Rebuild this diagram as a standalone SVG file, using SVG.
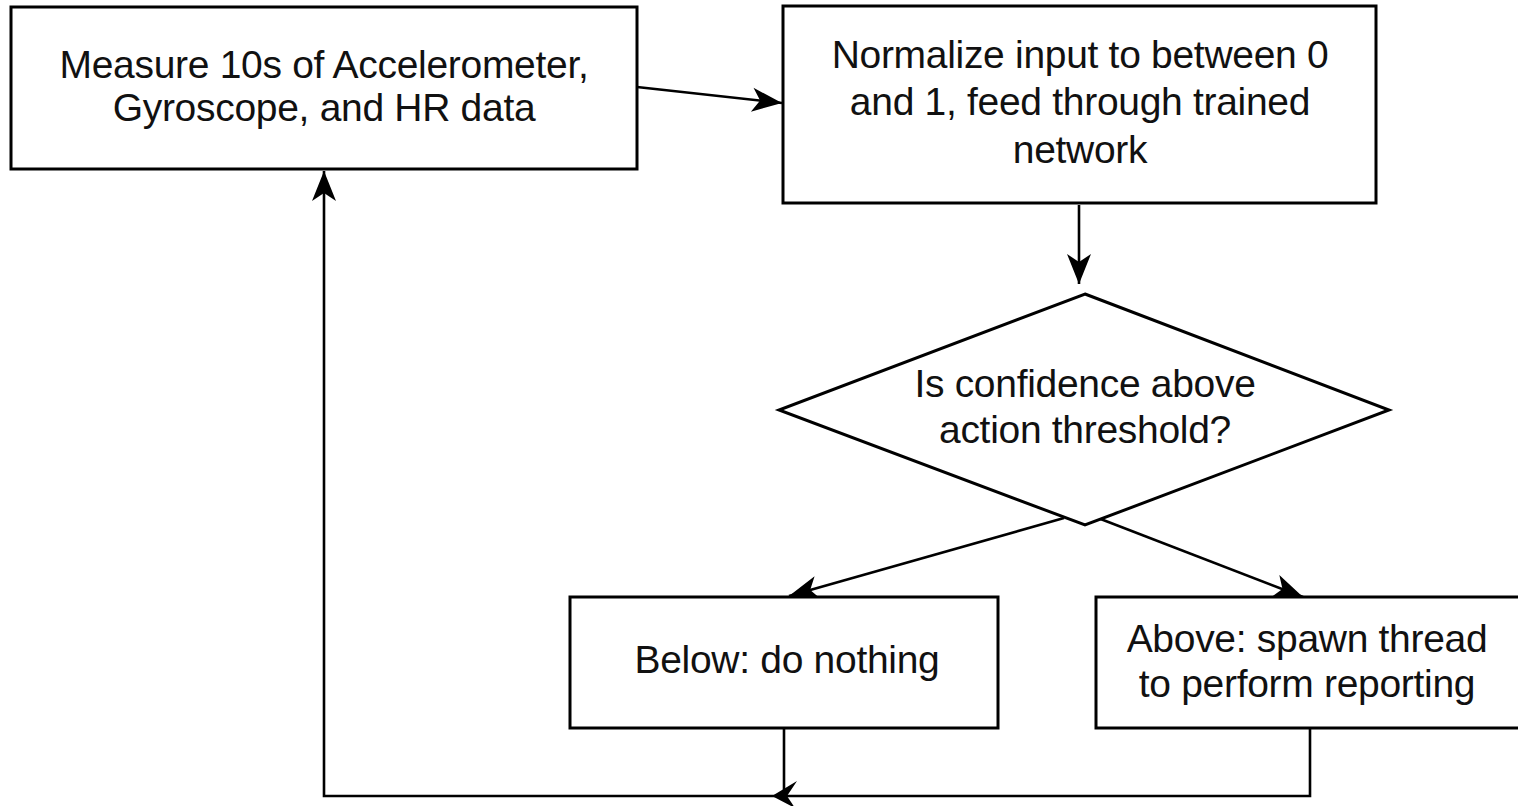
<svg xmlns="http://www.w3.org/2000/svg" width="1518" height="806" viewBox="0 0 1518 806">
<style>
.shape{fill:#fff;stroke:#000;stroke-width:3}
.edge{fill:none;stroke:#000;stroke-width:2.6}
.lbl{font-family:"Liberation Sans",Arial,Helvetica,sans-serif;font-size:39px;fill:#111;text-anchor:middle;letter-spacing:-0.3px}
</style>
<defs>
<marker id="arr" markerUnits="userSpaceOnUse" viewBox="-32 -14 34 28" markerWidth="34" markerHeight="28" refX="0" refY="0" orient="auto">
<path d="M0,0 L-30,-12 L-22,0 L-30,12 Z" fill="#000"/>
</marker>
</defs>
<rect width="1518" height="806" fill="#fff"/>
<g id="connectors">
<line class="edge" x1="637" y1="87" x2="782" y2="103" marker-end="url(#arr)"/>
<line class="edge" x1="1079" y1="205" x2="1079" y2="284" marker-end="url(#arr)"/>
<line class="edge" x1="1064" y1="518" x2="789" y2="596" marker-end="url(#arr)"/>
<line class="edge" x1="1098" y1="518" x2="1303" y2="597" marker-end="url(#arr)"/>
<polyline class="edge" points="1310,728 1310,796 324,796 324,171" marker-end="url(#arr)"/>
<line class="edge" x1="784" y1="728" x2="784" y2="794"/>
<path d="M772,796 L797,781 L787,796 L795,808 Z" fill="#000"/>
</g>
<g id="measure">
<rect class="shape" x="11" y="7" width="626" height="162"/>
<text class="lbl" x="324" y="78">Measure 10s of Accelerometer,</text>
<text class="lbl" x="324" y="121">Gyroscope, and HR data</text>
</g>
<g id="normalize">
<rect class="shape" x="783" y="6" width="593" height="197"/>
<text class="lbl" x="1080" y="68">Normalize input to between 0</text>
<text class="lbl" x="1080" y="115">and 1, feed through trained</text>
<text class="lbl" x="1080" y="163">network</text>
</g>
<g id="decision">
<polygon class="shape" points="1085,294 1389,410 1085,525 779,410"/>
<text class="lbl" x="1085" y="397">Is confidence above</text>
<text class="lbl" x="1085" y="443">action threshold?</text>
</g>
<g id="below">
<rect class="shape" x="570" y="597" width="428" height="131"/>
<text class="lbl" x="787" y="673">Below: do nothing</text>
</g>
<g id="above">
<rect class="shape" x="1096" y="597" width="426" height="131"/>
<text class="lbl" x="1307" y="652">Above: spawn thread</text>
<text class="lbl" x="1307" y="697">to perform reporting</text>
</g>
</svg>
